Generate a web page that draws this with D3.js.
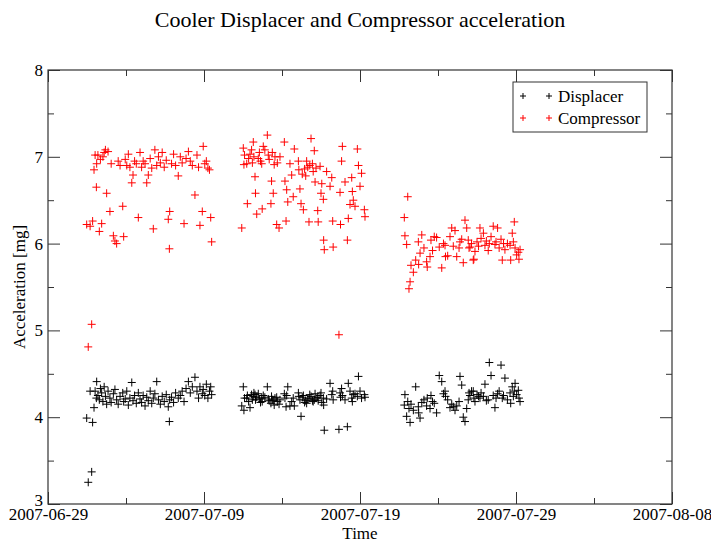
<!DOCTYPE html>
<html>
<head>
<meta charset="utf-8">
<script src="https://cdn.jsdelivr.net/npm/d3@7"></script>
<style>
  body { margin: 0; background: #fff; }
  text { font-family: "Liberation Serif", "Times New Roman", serif; fill: #000; }
</style>
</head>
<body>
<svg id="chart"></svg>
<script>
// day offsets from 2007-06-29 00:00 UTC, one block per measurement run
const days1 = [2.48,2.58,2.70,2.80,2.86,2.95,3.02,3.10,3.12,3.20,3.29,3.36,3.44,3.52,3.60,3.68,3.76,3.85,3.97,4.05,
  4.19,4.29,4.40,4.50,4.62,4.79,4.85,4.95,5.05,5.15,5.25,5.37,5.45,5.55,5.66,5.79,5.90,6.00,6.10,6.22,
  6.33,6.43,6.55,6.65,6.75,6.85,6.97,7.08,7.20,7.32,7.45,7.58,7.71,7.78,7.80,7.92,8.05,8.18,8.35,8.48,
  8.60,8.72,8.85,9.00,9.12,9.25,9.42,9.55,9.65,9.74,9.89,9.95,10.05,10.15,10.25,10.35,10.43,10.49];
const displacer1 = [3.99,3.25,4.30,3.37,3.94,4.11,4.30,4.22,4.41,4.25,4.20,4.33,4.28,4.18,4.35,4.24,4.15,4.30,4.22,4.17,
  4.27,4.32,4.20,4.15,4.24,4.28,4.18,4.21,4.30,4.14,4.22,4.40,4.19,4.25,4.16,4.28,4.21,4.17,4.25,4.13,
  4.23,4.19,4.30,4.16,4.22,4.27,4.41,4.20,4.15,4.24,4.18,4.26,4.12,3.95,4.20,4.23,4.17,4.28,4.22,4.25,
  4.30,4.18,4.33,4.41,4.28,4.35,4.46,4.30,4.22,4.35,4.27,4.32,4.25,4.38,4.22,4.30,4.35,4.26];
const compressor1 = [6.22,4.81,6.20,5.07,6.26,6.85,7.02,6.65,6.92,7.02,6.14,6.97,6.23,7.00,7.05,7.08,6.58,7.06,6.37,6.92,
  6.09,6.03,6.00,6.95,6.90,6.43,6.08,6.97,6.90,7.03,6.88,6.70,6.79,6.95,6.92,6.30,7.05,6.88,6.95,6.92,
  6.70,6.79,6.98,6.87,6.17,7.08,6.90,7.00,6.93,7.05,6.88,6.96,6.28,5.94,6.37,6.92,7.03,6.90,6.78,7.00,
  6.93,6.23,6.98,7.06,6.95,6.90,6.56,7.02,6.88,6.21,6.37,7.12,6.92,6.95,6.87,6.85,6.30,6.02];

const days2 = [12.42,12.52,12.56,12.60,12.74,12.78,12.86,12.95,13.05,13.10,13.16,13.20,13.27,13.30,13.38,13.48,13.55,13.62,13.70,13.73,
  13.80,13.90,14.06,14.12,14.18,14.29,14.33,14.38,14.44,14.50,14.55,14.66,14.70,14.81,14.87,15.15,15.19,15.26,15.30,15.37,
  15.51,15.62,15.72,15.79,16.05,16.08,16.15,16.22,16.30,16.37,16.45,16.52,16.58,16.65,16.73,16.78,16.86,16.95,17.00,17.07,
  17.12,17.18,17.29,17.32,17.44,17.50,17.55,17.65,17.67,17.71,17.86,18.08,18.19,18.25,18.28,18.65,18.72,18.75,18.82,18.87,
  19.04,19.19,19.25,19.36,19.47,19.51,19.57,19.68,19.83,19.90,20.00,20.10,20.28,20.32];
const displacer2 = [4.13,4.35,4.08,4.22,4.22,4.25,4.18,4.11,4.26,4.20,4.24,4.28,4.26,4.20,4.23,4.27,4.21,4.17,4.22,4.18,
  4.25,4.23,4.35,4.21,4.19,4.16,4.24,4.20,4.19,4.14,4.22,4.23,4.18,4.15,4.20,4.27,4.22,4.12,4.25,4.35,
  4.13,4.18,4.22,4.13,4.28,4.24,4.20,4.01,4.23,4.25,4.17,4.19,4.16,4.21,4.22,4.26,4.24,4.19,4.18,4.20,
  4.27,4.22,4.23,4.19,4.25,4.28,4.17,4.22,4.14,3.85,4.21,4.39,4.26,4.30,4.20,3.86,4.28,4.23,4.33,4.25,
  4.20,3.89,4.39,4.30,4.22,4.18,4.26,4.27,4.24,4.47,4.30,4.22,4.26,4.23];
const compressor2 = [6.18,7.10,6.91,7.02,6.92,6.46,6.98,7.03,7.08,6.93,7.17,7.00,6.77,6.58,6.34,6.98,7.05,6.95,6.92,6.40,
  7.12,7.08,7.25,7.02,6.97,6.46,6.72,7.05,6.58,6.91,7.00,6.22,6.93,6.18,7.00,7.17,6.72,6.26,6.62,6.48,
  6.92,6.79,6.54,7.09,6.95,6.85,6.63,6.46,6.80,6.39,6.86,6.78,6.95,6.88,6.25,6.90,7.21,6.92,6.83,7.07,
  6.71,6.87,6.38,6.25,6.89,6.58,6.69,6.51,6.04,5.93,6.83,6.66,6.76,6.26,5.96,4.95,6.59,6.22,6.95,7.12,
  6.71,6.04,6.29,6.45,6.76,6.60,6.50,6.43,7.09,6.90,6.66,6.81,6.39,6.31];

const days3 = [22.84,22.88,22.99,23.06,23.14,23.21,23.27,23.42,23.57,23.74,23.76,23.85,23.96,24.10,24.27,24.31,24.49,24.55,24.65,24.76,
  24.91,25.08,25.24,25.35,25.45,25.48,25.62,25.77,25.88,25.98,26.09,26.20,26.35,26.41,26.52,26.62,26.73,26.84,26.94,26.99,
  27.05,27.15,27.26,27.30,27.37,27.50,27.60,27.69,27.76,27.91,28.01,28.10,28.22,28.29,28.40,28.54,28.65,28.72,28.82,28.92,
  29.04,29.12,29.20,29.29,29.45,29.62,29.66,29.76,29.83,29.89,29.94,30.04,30.15,30.19,30.26];
const displacer3 = [4.14,4.26,4.01,4.18,4.10,3.94,4.15,4.08,4.35,4.12,4.05,3.99,4.17,4.20,4.13,4.22,4.10,4.25,4.18,4.16,
  4.05,4.48,4.41,4.27,4.30,4.24,4.20,4.11,4.15,4.12,4.08,4.13,4.18,4.47,4.37,4.00,3.95,4.10,4.20,4.28,
  4.25,4.30,4.30,4.22,4.18,4.26,4.24,4.22,4.28,4.24,4.38,4.19,4.20,4.63,4.48,4.25,4.11,4.22,4.27,4.30,
  4.60,4.22,4.25,4.45,4.20,4.28,4.16,4.35,4.24,4.30,4.39,4.26,4.31,4.22,4.18];
const compressor3 = [6.30,6.09,5.99,6.54,5.48,5.56,5.75,5.67,5.81,6.02,5.76,5.89,6.10,5.95,5.79,5.73,5.85,6.04,5.92,6.08,
  6.07,5.96,5.72,6.00,5.98,5.85,5.86,6.08,6.18,5.97,6.15,5.85,5.95,6.02,6.05,5.78,6.27,6.18,6.04,5.95,
  5.96,6.00,5.81,5.82,5.91,6.02,5.97,6.18,6.06,6.12,5.98,6.03,5.92,6.00,6.08,6.20,5.99,6.02,6.18,5.95,
  6.05,5.81,6.00,5.93,6.00,5.98,5.81,6.12,6.02,6.25,5.95,5.87,5.90,5.82,5.93];

const majorTicks = ["2007-06-29", "2007-07-09", "2007-07-19", "2007-07-29", "2007-08-08"];
const minorTicks = ["2007-07-04", "2007-07-14", "2007-07-24", "2007-08-03"];
const yMajor = [3, 4, 5, 6, 7, 8];
const yMinor = [3.5, 4.5, 5.5, 6.5, 7.5];
const seriesNames = ["Displacer", "Compressor"];
const seriesColors = ["#000000", "#ff0000"];

const width = 711, height = 542;
const margin = { top: 70, right: 39, bottom: 38, left: 48 };
const plotW = width - margin.left - margin.right;
const plotH = height - margin.top - margin.bottom;

const base = Date.UTC(2007, 5, 29);
const toDate = d => new Date(base + d * 864e5);
const parse = d3.utcParse("%Y-%m-%d");

function rows(days, vals) {
  return days.map((d, i) => ({ t: toDate(d), v: vals[i] }));
}
const series = [
  rows(days1, displacer1).concat(rows(days2, displacer2), rows(days3, displacer3)),
  rows(days1, compressor1).concat(rows(days2, compressor2), rows(days3, compressor3))
];

const svg = d3.select("#chart").attr("width", width).attr("height", height);

const x = d3.scaleUtc()
  .domain([parse(majorTicks[0]), parse(majorTicks[majorTicks.length - 1])])
  .range([margin.left, margin.left + plotW]);
const y = d3.scaleLinear()
  .domain([3, 8])
  .range([margin.top + plotH, margin.top]);

const axisColor = "#333";
function styleAxis(g, size) {
  g.select(".domain").remove();
  g.selectAll(".tick line").attr("stroke", axisColor).attr("stroke-width", 1);
  g.selectAll(".tick text").style("font-size", size + "px").attr("fill", "#000");
}

// left
svg.append("g")
  .attr("transform", `translate(${margin.left},0)`)
  .call(d3.axisLeft(y).tickValues(yMinor).tickSize(-6).tickFormat(""))
  .call(g => styleAxis(g, 17));
svg.append("g")
  .attr("transform", `translate(${margin.left},0)`)
  .call(d3.axisLeft(y).tickValues(yMajor).tickSize(-12).tickPadding(5).tickFormat(d3.format("d")))
  .call(g => styleAxis(g, 17))
  .call(g => g.selectAll(".tick text").filter(d => d === 3).attr("dy", "0.1em"));
// right
svg.append("g")
  .attr("transform", `translate(${margin.left + plotW},0)`)
  .call(d3.axisRight(y).tickValues(yMinor).tickSize(-6).tickFormat(""))
  .call(g => styleAxis(g, 17));
svg.append("g")
  .attr("transform", `translate(${margin.left + plotW},0)`)
  .call(d3.axisRight(y).tickValues(yMajor).tickSize(-12).tickFormat(""))
  .call(g => styleAxis(g, 17));
// bottom
svg.append("g")
  .attr("transform", `translate(0,${margin.top + plotH})`)
  .call(d3.axisBottom(x).tickValues(minorTicks.map(parse)).tickSize(-6).tickFormat(""))
  .call(g => styleAxis(g, 17));
svg.append("g")
  .attr("transform", `translate(0,${margin.top + plotH})`)
  .call(d3.axisBottom(x).tickValues(majorTicks.map(parse)).tickSize(-12).tickPadding(4)
    .tickFormat(d3.utcFormat("%Y-%m-%d")))
  .call(g => styleAxis(g, 17));
// top
svg.append("g")
  .attr("transform", `translate(0,${margin.top})`)
  .call(d3.axisTop(x).tickValues(minorTicks.map(parse)).tickSize(-6).tickFormat(""))
  .call(g => styleAxis(g, 17));
svg.append("g")
  .attr("transform", `translate(0,${margin.top})`)
  .call(d3.axisTop(x).tickValues(majorTicks.map(parse)).tickSize(-12).tickFormat(""))
  .call(g => styleAxis(g, 17));

svg.append("rect")
  .attr("x", margin.left).attr("y", margin.top)
  .attr("width", plotW).attr("height", plotH)
  .attr("fill", "none").attr("stroke", axisColor).attr("stroke-width", 1.2);

// plus markers
const plus = s => `M${-s},0H${s}M0,${-s}V${s}`;
series.forEach((data, k) => {
  svg.append("g")
    .selectAll("path")
    .data(data)
    .join("path")
    .attr("transform", d => `translate(${x(d.t)},${y(d.v)})`)
    .attr("d", plus(4))
    .attr("fill", "none")
    .attr("stroke", seriesColors[k])
    .attr("stroke-width", 1);
});

// titles
svg.append("text")
  .attr("x", margin.left + plotW / 2).attr("y", 27)
  .attr("text-anchor", "middle")
  .style("font-size", "22px")
  .text("Cooler Displacer and Compressor acceleration");
svg.append("text")
  .attr("x", margin.left + plotW / 2).attr("y", 539)
  .attr("text-anchor", "middle")
  .style("font-size", "17px")
  .text("Time");
svg.append("text")
  .attr("transform", `translate(25,${margin.top + plotH / 2}) rotate(-90)`)
  .attr("text-anchor", "middle")
  .style("font-size", "17px")
  .text("Acceleration [mg]");

// legend
const legend = svg.append("g").attr("transform", "translate(513,82)");
legend.append("rect")
  .attr("width", 134).attr("height", 50)
  .attr("fill", "#fff").attr("stroke", axisColor).attr("stroke-width", 1);
seriesNames.forEach((name, i) => {
  const row = legend.append("g").attr("transform", `translate(0,${14 + i * 22})`);
  row.append("path").attr("transform", "translate(10,0)").attr("d", plus(3))
    .attr("stroke", seriesColors[i]).attr("fill", "none");
  row.append("path").attr("transform", "translate(36,0)").attr("d", plus(3))
    .attr("stroke", seriesColors[i]).attr("fill", "none");
  row.append("text").attr("x", 45).attr("dy", "0.35em")
    .style("font-size", "17px").text(name);
});
</script>
</body>
</html>
